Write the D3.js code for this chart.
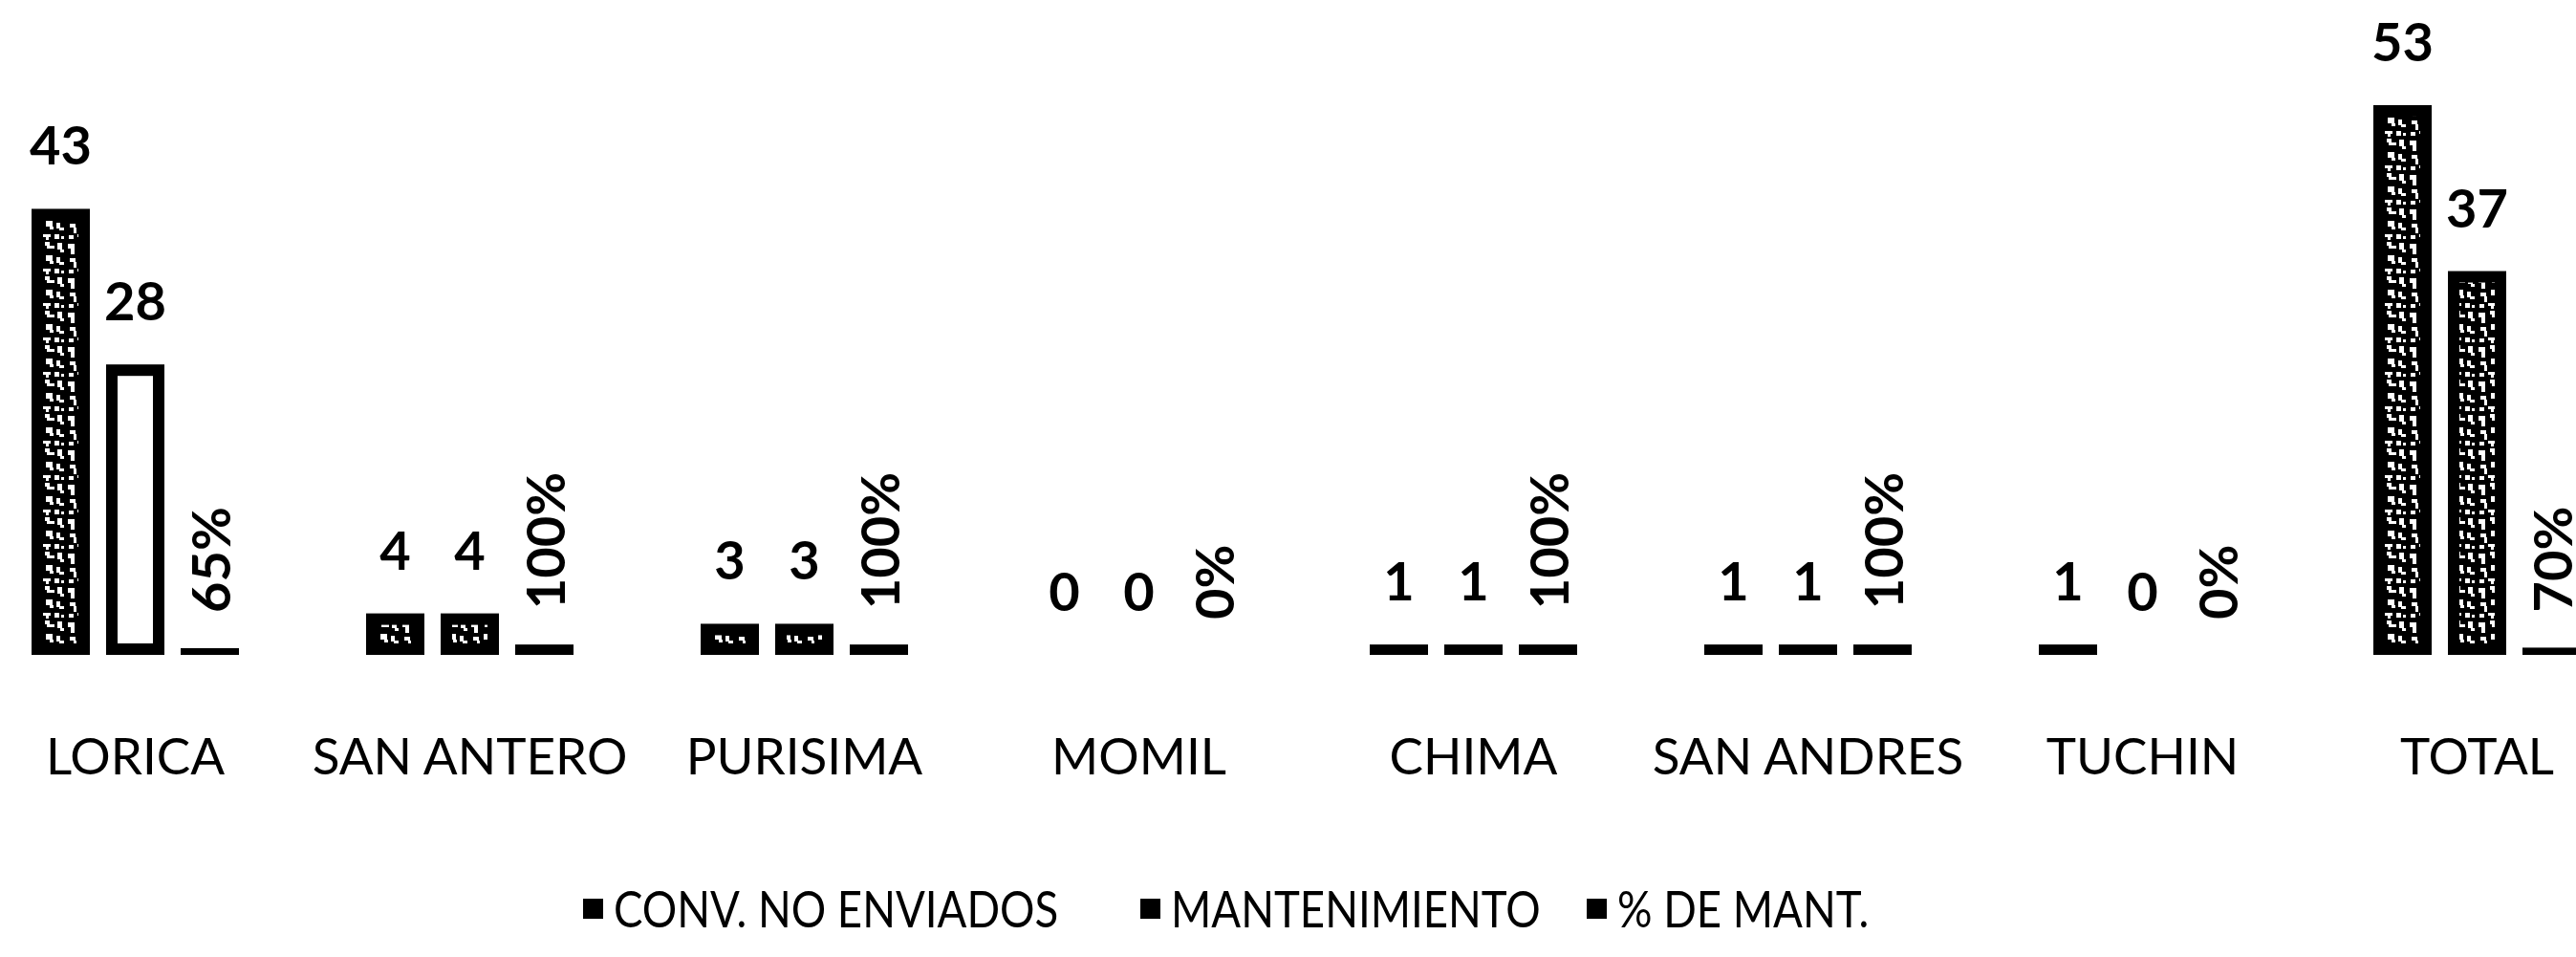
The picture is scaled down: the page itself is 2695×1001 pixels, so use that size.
<!DOCTYPE html>
<html>
<head>
<meta charset="utf-8">
<script src="https://cdn.jsdelivr.net/npm/d3@7"></script>
<style>
body { margin:0; background:#fff; }
</style>
</head>
<body>
<div id="chart-area"></div>
<script>
// datos del grafico
var categories = ["LORICA","SAN ANTERO","PURISIMA","MOMIL","CHIMA","SAN ANDRES","TUCHIN","TOTAL"];
var seriesNames = ["CONV. NO ENVIADOS","MANTENIMIENTO","% DE MANT."];
var convNoEnviados = [43,4,3,0,1,1,1,53];
var mantenimiento = [28,4,3,0,1,1,0,37];
var pctMant = [0.65,1,1,0,1,1,0,0.70];

var width = 2695, height = 1001;
var font = "Lato, 'Open Sans', sans-serif";
var pctFmt = d3.format(".0%");

// barras que en la imagen salen huecas (blancas con borde)
var hollow = {"LORICA|MANTENIMIENTO": true};

var rows = categories.map(function(c, i){
	return {cat: c, values: [
		{cat: c, s: seriesNames[0], v: convNoEnviados[i]},
		{cat: c, s: seriesNames[1], v: mantenimiento[i]},
		{cat: c, s: seriesNames[2], v: pctMant[i]}
	]};
});

var svg = d3.select("#chart-area")
	.append("svg")
		.attr("width", width)
		.attr("height", height);

// textura tipo escaneo
var defs = svg.append("defs");
var pat = defs.append("pattern")
	.attr("id","speckle")
	.attr("patternUnits","userSpaceOnUse")
	.attr("width",36)
	.attr("height",36);
pat.append("rect").attr("width",36).attr("height",36).attr("fill","#000");
var speck = [[2,3,7,5],[5,8,4,6],[14,1,5,4],[16,5,8,3],[27,2,5,7],[30,9,4,3],[4,18,6,4],
	[8,22,3,6],[15,15,7,6],[19,21,4,3],[26,17,4,6],[29,22,5,3],[3,30,5,4],[12,29,8,3],
	[15,32,3,3],[24,29,5,5],[31,31,3,3]];
pat.selectAll("rect.s").data(speck).enter().append("rect")
	.attr("class","s")
	.attr("x", function(d){ return d[0]; })
	.attr("y", function(d){ return d[1]; })
	.attr("width", function(d){ return d[2]; })
	.attr("height", function(d){ return d[3]; })
	.attr("fill","#fff");

var x = d3.scaleBand()
	.domain(categories)
	.range([-33.5, 2766.5])
	.paddingInner(0.38)
	.paddingOuter(0.19);

var xs = d3.scaleBand()
	.domain(seriesNames)
	.range([0, x.bandwidth()])
	.paddingInner(0.218);

var y = d3.scaleLinear()
	.domain([0, 60])
	.range([685, 34]);

var groups = svg.selectAll("g.grp")
	.data(rows)
	.enter()
	.append("g")
		.attr("class","grp")
		.attr("transform", function(d){ return "translate(" + x(d.cat) + ",0)"; });

groups.selectAll("rect.bar")
	.data(function(d){ return d.values; })
	.enter()
	.append("rect")
		.attr("class","bar")
		.attr("x", function(d){ return xs(d.s); })
		.attr("y", function(d){ return y(d.v); })
		.attr("width", xs.bandwidth())
		.attr("height", function(d){ return y(0) - y(d.v); })
		.attr("fill","#000");

var inset = 12;
groups.selectAll("rect.tex")
	.data(function(d){
		return d.values.filter(function(v){
			return v.s !== seriesNames[2] && (y(0) - y(v.v)) > 2*inset + 6;
		});
	})
	.enter()
	.append("rect")
		.attr("class","tex")
		.attr("x", function(d){ return xs(d.s) + inset; })
		.attr("y", function(d){ return y(d.v) + inset; })
		.attr("width", xs.bandwidth() - 2*inset)
		.attr("height", function(d){ return y(0) - y(d.v) - 2*inset; })
		.attr("fill", function(d){ return hollow[d.cat + "|" + d.s] ? "#fff" : "url(#speckle)"; });

// etiquetas de valor
groups.selectAll("text.val")
	.data(function(d){ return d.values.filter(function(v){ return v.s !== seriesNames[2]; }); })
	.enter()
	.append("text")
		.attr("class","val")
		.attr("x", function(d){ return xs(d.s) + xs.bandwidth()/2; })
		.attr("y", function(d){ return y(d.v) - 46; })
		.attr("text-anchor","middle")
		.attr("font-family", font)
		.attr("font-weight","bold")
		.attr("font-size","56px")
		.attr("fill","#000")
		.text(function(d){ return d.v; });

groups.selectAll("text.pct")
	.data(function(d){ return d.values.filter(function(v){ return v.s === seriesNames[2]; }); })
	.enter()
	.append("text")
		.attr("class","pct")
		.attr("transform", function(d){
			return "translate(" + (xs(d.s) + xs.bandwidth()/2) + "," + (y(d.v) - 37) + ") rotate(-90)";
		})
		.attr("dominant-baseline","central")
		.attr("font-family", font)
		.attr("font-weight","bold")
		.attr("font-size","56px")
		.attr("fill","#000")
		.text(function(d){ return pctFmt(d.v); });

// categorias
svg.selectAll("text.cat")
	.data(categories)
	.enter()
	.append("text")
		.attr("class","cat")
		.attr("x", function(d){ return x(d) + x.bandwidth()/2; })
		.attr("y", 810)
		.attr("text-anchor","middle")
		.attr("font-family", font)
		.attr("font-size","53px")
		.attr("fill","#000")
		.text(function(d){ return d; });

// leyenda
var legendX = [610, 1193, 1660];
var legend = svg.selectAll("g.leg")
	.data(seriesNames)
	.enter()
	.append("g")
		.attr("class","leg")
		.attr("transform", function(d, i){ return "translate(" + legendX[i] + ",951)"; });

legend.append("rect")
	.attr("x",0)
	.attr("y",-11)
	.attr("width",21)
	.attr("height",21)
	.attr("fill","#000");

legend.append("g")
	.attr("transform","translate(32,19) scale(0.86,1)")
	.append("text")
		.attr("font-family", font)
		.attr("font-size","53px")
		.attr("fill","#000")
		.text(function(d){ return d; });
</script>
</body>
</html>
